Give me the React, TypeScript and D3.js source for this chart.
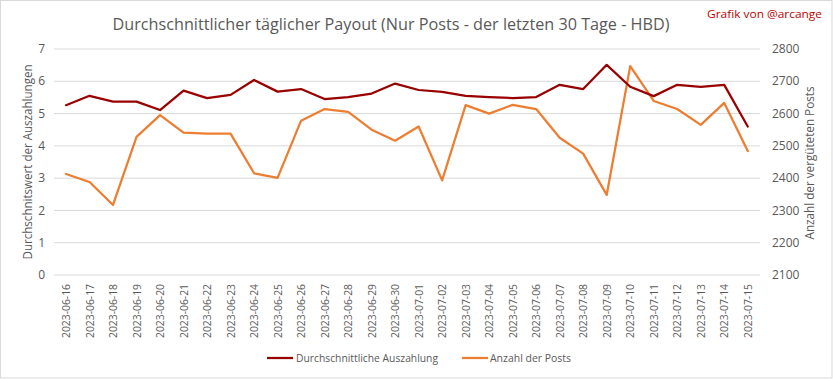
import React from "react";
import * as d3 from "d3";

const dates = [
  "2023-06-16","2023-06-17","2023-06-18","2023-06-19","2023-06-20","2023-06-21","2023-06-22","2023-06-23","2023-06-24","2023-06-25",
  "2023-06-26","2023-06-27","2023-06-28","2023-06-29","2023-06-30","2023-07-01","2023-07-02","2023-07-03","2023-07-04","2023-07-05",
  "2023-07-06","2023-07-07","2023-07-08","2023-07-09","2023-07-10","2023-07-11","2023-07-12","2023-07-13","2023-07-14","2023-07-15",
];
const payout = [
  5.26, 5.55, 5.37, 5.37, 5.11, 5.71, 5.48, 5.58, 6.04, 5.68,
  5.76, 5.45, 5.51, 5.62, 5.93, 5.73, 5.67, 5.55, 5.51, 5.48,
  5.51, 5.89, 5.76, 6.51, 5.83, 5.54, 5.89, 5.83, 5.89, 4.60,
];
const posts = [
  2413, 2388, 2317, 2528, 2595, 2541, 2538, 2538, 2415, 2401,
  2578, 2614, 2605, 2550, 2516, 2560, 2393, 2626, 2600, 2627,
  2614, 2525, 2476, 2348, 2747, 2639, 2614, 2565, 2633, 2484,
];
const leftTicks = [0, 1, 2, 3, 4, 5, 6, 7];
const rightTicks = [2100, 2200, 2300, 2400, 2500, 2600, 2700, 2800];

const W = 833;
const H = 379;
const FONT = "'Open Sans', 'Noto Sans', sans-serif";
const GREY = "#595959";
const RED = "#990000";
const ORANGE = "#ED7D31";

export default function App() {
  const x = d3.scalePoint<string>().domain(dates).range([54.25, 759.5]).padding(0.5);
  const yL = d3.scaleLinear().domain([0, 7]).range([275, 49]);
  const yR = d3.scaleLinear().domain([2100, 2800]).range([275, 49]);

  const lineL = d3.line<number>().x((_, i) => x(dates[i])!).y((d) => yL(d));
  const lineR = d3.line<number>().x((_, i) => x(dates[i])!).y((d) => yR(d));

  return (
    <svg width={W} height={H} style={{ position: "absolute", left: 0, top: 0, background: "#fff" }}>
      <rect x={0.5} y={0.5} width={W - 1.5} height={H - 1.5} fill="#fff" stroke="#d9d9d9" />
      <text x={391} y={30} textAnchor="middle" fontFamily={FONT} fontSize={17} fill={GREY}
        textLength={557} lengthAdjust="spacingAndGlyphs">
        Durchschnittlicher täglicher Payout (Nur Posts - der letzten 30 Tage - HBD)
      </text>
      <text x={822} y={18} textAnchor="end" fontFamily={FONT} fontSize={11.5} fill="#C00000"
        textLength={115} lengthAdjust="spacingAndGlyphs">
        Grafik von @arcange
      </text>

      {leftTicks.map((t) => (
        <line key={"g" + t} x1={54} x2={760} y1={yL(t)} y2={yL(t)} stroke="#d9d9d9" strokeWidth={1} />
      ))}
      {leftTicks.map((t) => (
        <text key={"l" + t} x={45} y={yL(t)} dy="0.35em" textAnchor="end" fontFamily={FONT} fontSize={12} fill={GREY}>
          {t}
        </text>
      ))}
      {rightTicks.map((t) => (
        <text key={"r" + t} x={772} y={yR(t)} dy="0.35em" textAnchor="start" fontFamily={FONT} fontSize={12} fill={GREY}>
          {t}
        </text>
      ))}

      <text transform={`translate(32,162) rotate(-90)`} textAnchor="middle" fontFamily={FONT} fontSize={12} fill={GREY}
        textLength={195} lengthAdjust="spacingAndGlyphs">
        Durchschnitswert der Auszahlungen
      </text>
      <text transform={`translate(814,163) rotate(-90)`} textAnchor="middle" fontFamily={FONT} fontSize={12} fill={GREY}
        textLength={153} lengthAdjust="spacingAndGlyphs">
        Anzahl der  vergüteten  Posts
      </text>

      {dates.map((d) => (
        <text key={d} transform={`translate(${x(d)! + 4},284) rotate(-90)`} textAnchor="end" fontFamily={FONT}
          fontSize={11} fill={GREY} textLength={54} lengthAdjust="spacingAndGlyphs">
          {d}
        </text>
      ))}

      <path d={lineR(posts)!} fill="none" stroke={ORANGE} strokeWidth={2.25} strokeLinejoin="round" strokeLinecap="round" />
      <path d={lineL(payout)!} fill="none" stroke={RED} strokeWidth={2.25} strokeLinejoin="round" strokeLinecap="round" />

      <line x1={267} x2={293} y1={358} y2={358} stroke={RED} strokeWidth={2.25} />
      <text x={296} y={358} dy="0.35em" fontFamily={FONT} fontSize={11.5} fill={GREY} textLength={142} lengthAdjust="spacingAndGlyphs">
        Durchschnittliche Auszahlung
      </text>
      <line x1={462} x2={488} y1={358} y2={358} stroke={ORANGE} strokeWidth={2.25} />
      <text x={490} y={358} dy="0.35em" fontFamily={FONT} fontSize={11.5} fill={GREY} textLength={81} lengthAdjust="spacingAndGlyphs">
        Anzahl der Posts
      </text>
    </svg>
  );
}
